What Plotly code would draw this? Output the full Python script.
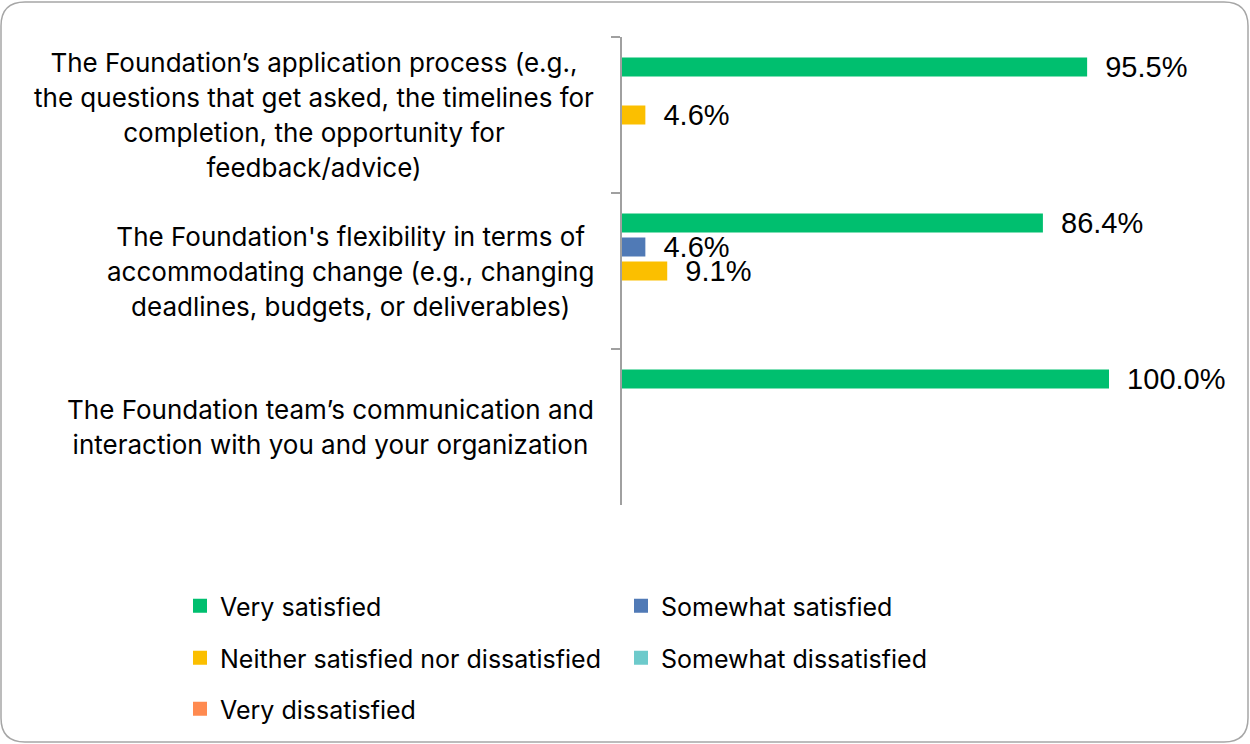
import plotly.graph_objects as go

# Survey items (y categories) and satisfaction shares (%)
categories = [
    "The Foundation’s application process (e.g.,<br>the questions that get asked, the timelines for<br>completion, the opportunity for<br>feedback/advice)",
    "The Foundation's flexibility in terms of<br>accommodating change (e.g., changing<br>deadlines, budgets, or deliverables)",
    "The Foundation team’s communication and<br>interaction with you and your organization",
]
series_names = [
    "Very satisfied",
    "Somewhat satisfied",
    "Neither satisfied nor dissatisfied",
    "Somewhat dissatisfied",
    "Very dissatisfied",
]
very_satisfied = [95.5, 86.4, 100.0]
somewhat_satisfied = [0.0, 4.6, 0.0]
neither = [4.6, 9.1, 0.0]
somewhat_dissatisfied = [0.0, 0.0, 0.0]
very_dissatisfied = [0.0, 0.0, 0.0]
series_values = [very_satisfied, somewhat_satisfied, neither,
                 somewhat_dissatisfied, very_dissatisfied]
colors = ["#00BF6F", "#507AB6", "#FBBF00", "#6DCACB", "#FF8A50"]

W, H = 1250, 744
ML, MR, MT, MB = 622, 10, 37, 239
plot_w = W - ML - MR
plot_h = H - MT - MB
x_max = plot_w / 4.86  # 100% spans 486 px

# Legend entries: two columns, three rows (each entry gets its own legend box)
legend_ids = ["legend", "legend2", "legend3", "legend4", "legend5"]
legend_cols = [180, 621, 180, 621, 180]
legend_rows = [606, 606, 658, 658, 709]

fig = go.Figure()
for name, vals, col, lg in zip(series_names, series_values, colors, legend_ids):
    fig.add_trace(go.Bar(
        y=categories,
        x=[v if v > 0 else None for v in vals],  # empty responses draw no bar
        name=name, orientation="h",
        marker=dict(color=col, line=dict(width=2, color=col)),
        text=[f"\u00a0\u00a0{v:.1f}%" if v > 0 else "" for v in vals],
        textposition="outside", constraintext="none", cliponaxis=False,
        textfont=dict(family="Liberation Sans, Arial", size=29, color="#000000"),
        legend=lg, hoverinfo="skip",
    ))

# Category labels: centered lines, block right-aligned near the axis
LINE_GAP = 35
for cat in categories:
    lines = cat.split("<br>")
    fig.add_annotation(
        x=0, y=cat, xref="x", yref="y", xanchor="right", yanchor="middle",
        xshift=-26, align="center", showarrow=False,
        text="<br>".join(f"<span style='font-size:26px'>{ln}</span>" for ln in lines),
        font=dict(family="Inter", size=LINE_GAP / 1.3, color="#000000"),
    )


def px_x(px):
    return (px - ML) / plot_w


def px_y(py):
    return (MT + plot_h - py) / plot_h


# Rounded outer frame
x0, x1, y0, y1, r = 1, 1248, 2, 742, 24
path = (
    f"M {px_x(x0 + r)},{px_y(y0)} L {px_x(x1 - r)},{px_y(y0)} "
    f"Q {px_x(x1)},{px_y(y0)} {px_x(x1)},{px_y(y0 + r)} "
    f"L {px_x(x1)},{px_y(y1 - r)} "
    f"Q {px_x(x1)},{px_y(y1)} {px_x(x1 - r)},{px_y(y1)} "
    f"L {px_x(x0 + r)},{px_y(y1)} "
    f"Q {px_x(x0)},{px_y(y1)} {px_x(x0)},{px_y(y1 - r)} "
    f"L {px_x(x0)},{px_y(y0 + r)} "
    f"Q {px_x(x0)},{px_y(y0)} {px_x(x0 + r)},{px_y(y0)} Z"
)
fig.add_shape(type="path", path=path, xref="paper", yref="paper",
              line=dict(color="#A6A6A6", width=1.5), layer="below")

legend_layout = {}
for lg, lx, ly in zip(legend_ids, legend_cols, legend_rows):
    legend_layout[lg] = dict(
        orientation="h", xref="container", yref="container",
        x=lx / W, y=1 - ly / H, xanchor="left", yanchor="middle",
        font=dict(family="Inter", size=25, color="#000000"),
        bgcolor="rgba(0,0,0,0)", itemclick=False, itemdoubleclick=False,
    )

fig.update_layout(
    width=W, height=H,
    margin=dict(l=ML, r=MR, t=MT, b=MB),
    paper_bgcolor="#FFFFFF", plot_bgcolor="#FFFFFF",
    barmode="group", bargap=36 / 156, bargroupgap=0.29,
    showlegend=True,
    xaxis=dict(range=[0, x_max], visible=False, fixedrange=True),
    yaxis=dict(
        autorange="reversed", showticklabels=False,
        tickson="boundaries", ticks="outside", ticklen=9, tickwidth=1.5,
        tickcolor="#A0A0A0", showline=True, linecolor="#A0A0A0", linewidth=1.5,
        showgrid=False, zeroline=False, fixedrange=True,
    ),
    **legend_layout,
)

fig.write_html("out.html")
